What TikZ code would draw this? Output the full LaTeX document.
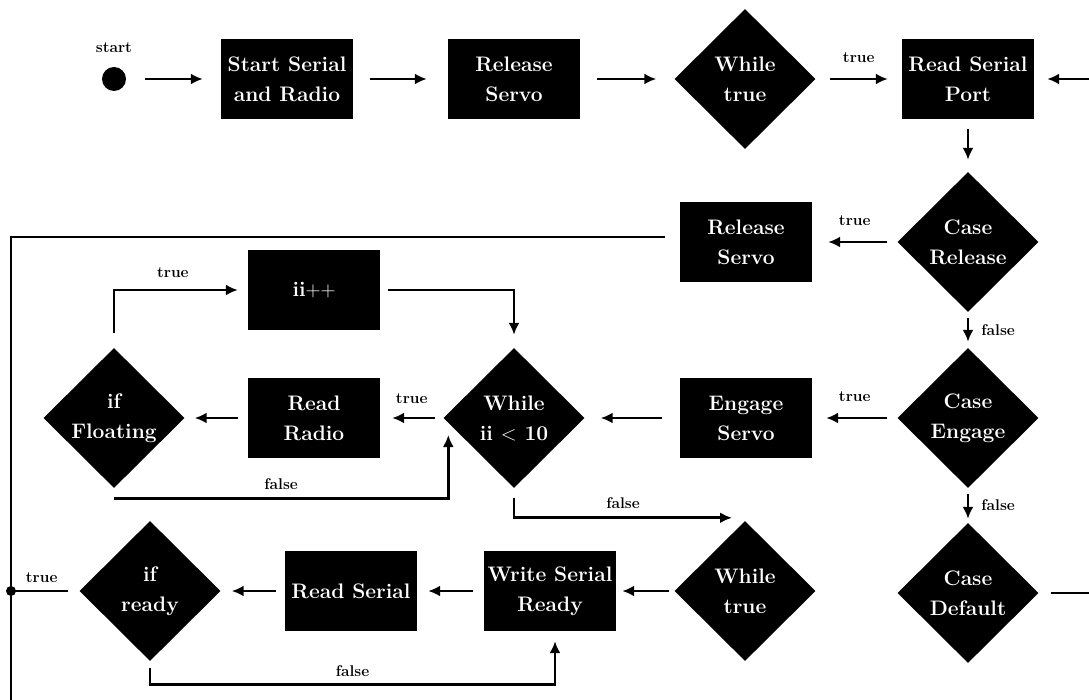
\documentclass[tikz,border=0pt]{standalone}
\usetikzlibrary{shapes.geometric,arrows.meta,calc}
\begin{document}
\begin{tikzpicture}[x=1pt,y=-1pt,
  box/.style={fill=black,text=white,minimum width=132pt,minimum height=80pt,
    inner sep=0pt,align=center,font=\fontsize{21}{30}\selectfont\bfseries},
  dec/.style={diamond,fill=black,text=white,minimum width=141pt,minimum height=140pt,
    inner sep=0pt,align=center,font=\fontsize{21}{30}\selectfont\bfseries},
  lbl/.style={font=\fontsize{15.5}{18}\selectfont\bfseries,inner sep=0pt},
  flow/.style={line width=2.8pt,-{Latex[length=12pt,width=11pt]}},
  wire/.style={line width=2.8pt},
]
\useasboundingbox (0,0) rectangle (1089,700);
\clip (0,0) rectangle (1089,700);

% first row
\node[circle,fill=black,minimum size=24pt,inner sep=0pt] (start) at (114,79) {};
\node[lbl] (startlbl) at (114,48) {start};
\node[box] (ssr) at (287,79) {Start Serial\\and Radio};
\node[box] (rs1) at (514,79) {Release\\Servo};
\node[dec] (wt1) at (745,79) {While\\true};
\node[box] (rsp) at (968,79) {Read Serial\\Port};

% case column
\node[dec] (cr) at (968,242) {Case\\Release};
\node[dec] (ce) at (968,418) {Case\\Engage};
\node[dec] (cd) at (968,593) {Case\\Default};

% release / engage branches
\node[box] (rs2) at (746,242) {Release\\Servo};
\node[box] (es) at (746,418) {Engage\\Servo};

% radio loop
\node[dec] (wl) at (514,418) {While\\ii $<$ 10};
\node[box] (rr) at (314,418) {Read\\Radio};
\node[dec] (fl) at (114,418) {if\\Floating};
\node[box] (ii) at (314,290) {ii$++$};

% serial loop
\node[dec] (wt2) at (745,591) {While\\true};
\node[box] (wsr) at (550,591) {Write Serial\\Ready};
\node[box] (rser) at (351,591) {Read Serial};
\node[dec] (rdy) at (150,591) {if\\ready};

% junction on the return line
\node[circle,fill=black,minimum size=10pt,inner sep=0pt] (j) at (11,591) {};

% first row connectors
\draw[flow,shorten <=19pt,shorten >=18pt] (start) -- (ssr);
\draw[flow,shorten <=17pt,shorten >=21pt] (ssr) -- (rs1);
\draw[flow,shorten <=17pt,shorten >=18pt] (rs1) -- (wt1);
\draw[flow,shorten <=14pt,shorten >=14pt] (wt1) -- node[lbl,above=15pt] {true} (rsp);
\draw[flow,shorten <=10pt,shorten >=12pt] (rsp) -- (cr);

% case chain
\draw[flow,shorten <=6pt,shorten >=6pt] (cr) -- node[lbl,right=12pt] {false} (ce);
\draw[flow,shorten <=6pt,shorten >=4pt] (ce) -- node[lbl,right=12pt] {false} (cd);
\draw[flow,shorten <=10pt,shorten >=16pt] (cr) -- node[lbl,above=15pt] {true} (rs2);
\draw[flow,shorten <=10pt,shorten >=14pt] (ce) -- node[lbl,above=15pt] {true} (es);
\draw[flow,shorten <=12pt,shorten >=13pt] (cd.east) -- ($(cd.east)+(80,0)$) |- (rsp.east);

% return line down the left side
\draw[wire,shorten <=15pt] ($(rs2.west)+(0,-5)$) -| (j.center) -- ($(j.center)+(0,150)$);

% radio loop connectors
\draw[flow,shorten <=18pt,shorten >=16pt] (es) -- (wl);
\draw[flow,shorten <=8pt,shorten >=12pt] (wl) -- node[lbl,above=13pt] {true} (rr);
\draw[flow,shorten <=10pt,shorten >=10pt] (rr) -- (fl);
\draw[flow,shorten <=15pt,shorten >=10pt] (fl.north) |- node[lbl,pos=0.72,above=11pt] {true} (ii.west);
\draw[flow,shorten <=8pt,shorten >=13pt] (ii.east) -| (wl.north);
\draw[flow] ($(fl.south)+(0,10)$) -| node[lbl,pos=0.25,above=7pt] {false} ($(wl.west)+(5,17)$);
\draw[flow] ($(wl.south)+(0,10)$) |- node[lbl,pos=0.75,above=8pt] {false} ($(wt2.north)+(-13,-3)$);

% serial loop connectors
\draw[flow,shorten <=5pt,shorten >=6pt] (wt2) -- (wsr);
\draw[flow,shorten <=11pt,shorten >=11pt] (wsr) -- (rser);
\draw[flow,shorten <=9pt,shorten >=11pt] (rser) -- (rdy);
\draw[wire,shorten <=11pt] (rdy.west) -- node[lbl,pos=0.55,above=7pt] {true} (j.center);
\draw[flow] ($(rdy.south)+(0,7)$) -- ($(rdy.south)+(0,23)$) -| node[lbl,pos=0.25,above=6pt] {false} ($(wsr.south)+(5,10)$);
\end{tikzpicture}
\end{document}
